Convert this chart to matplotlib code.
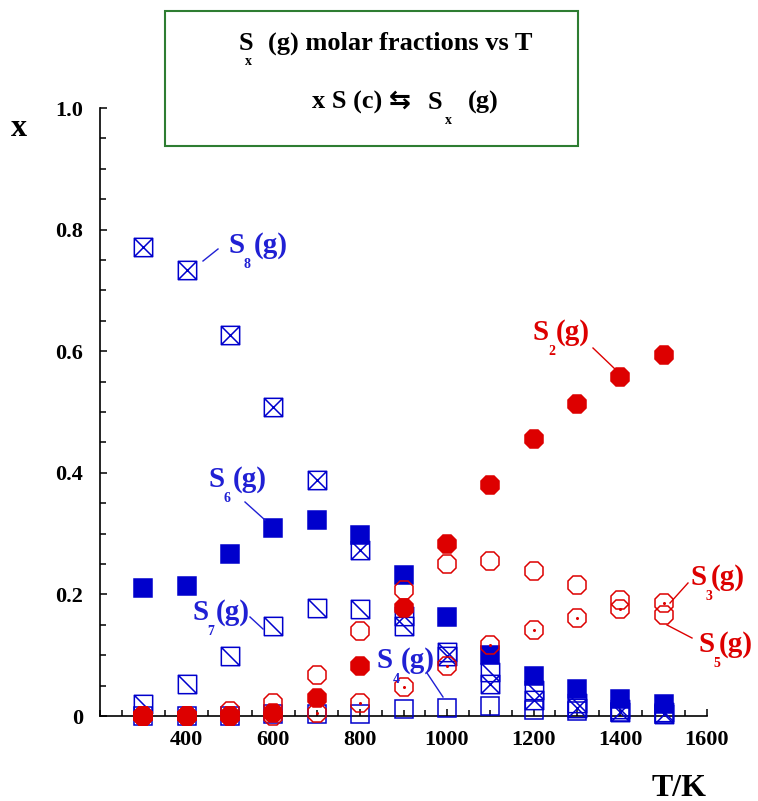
import matplotlib
matplotlib.use("Agg")
import matplotlib.pyplot as plt
from matplotlib.path import Path
from matplotlib.ticker import FixedLocator, MultipleLocator

# ---------------- data ----------------
T = [300, 400, 500, 600, 700, 800, 900, 1000, 1100, 1200, 1300, 1400, 1500]
x_S2 = [0, 0, 0, 0.005, 0.030, 0.082, 0.178, 0.283, 0.380, 0.456, 0.513, 0.558, 0.594]
x_S3 = [0, 0, 0, 0.0, 0.005, 0.021, 0.047, 0.083, 0.117, 0.142, 0.161, 0.176, 0.186]
x_S5 = [0, 0, 0.008, 0.021, 0.068, 0.139, 0.207, 0.250, 0.255, 0.238, 0.216, 0.190, 0.166]
x_S6 = [0.210, 0.213, 0.266, 0.310, 0.323, 0.298, 0.232, 0.163, 0.100, 0.066, 0.045, 0.028, 0.020]
x_S7 = [0.020, 0.052, 0.098, 0.148, 0.178, 0.176, 0.148, 0.106, 0.072, 0.042, 0.022, 0.011, 0.006]
x_S8 = [0.772, 0.733, 0.627, 0.508, 0.388, 0.273, 0.165, 0.098, 0.052, 0.026, 0.013, 0.007, 0.003]
x_S4 = [0, 0, 0, 0.003, 0.003, 0.003, 0.011, 0.013, 0.017, 0.010, 0.008, 0.006, 0.004]

xtick_vals = [400, 600, 800, 1000, 1200, 1400, 1600]
xtick_labels = ["400", "600", "800", "1000", "1200", "1400", "1600"]
ytick_vals = [0, 0.2, 0.4, 0.6, 0.8, 1.0]
ytick_labels = ["0", "0.2", "0.4", "0.6", "0.8", "1.0"]

# ---------------- style ----------------
W, H = 758, 801
BLUE = "#0000cc"
LBLUE = "#2020d4"
RED = "#dd0000"
GREEN = "#2e7d32"
SERIF = ["Liberation Serif", "DejaVu Serif"]
ARROWFAM = ["Liberation Serif", "DejaVu Sans"]

plt.rcParams["font.family"] = SERIF
plt.rcParams["font.weight"] = "bold"

fig = plt.figure(figsize=(W / 100, H / 100), dpi=100)
ax = fig.add_axes([100 / W, 1 - 716 / H, (707 - 100) / W, (716 - 108) / H])
ax.set_xlim(200, 1600)
ax.set_ylim(0, 1.0)
for s in ("top", "right"):
    ax.spines[s].set_visible(False)
for s in ("left", "bottom"):
    ax.spines[s].set_linewidth(1.2)

ax.xaxis.set_major_locator(FixedLocator(xtick_vals))
ax.xaxis.set_minor_locator(MultipleLocator(50))
ax.set_xticklabels(xtick_labels)
ax.yaxis.set_major_locator(FixedLocator(ytick_vals))
ax.yaxis.set_minor_locator(MultipleLocator(0.05))
ax.set_yticklabels(ytick_labels)
ax.tick_params(which="both", direction="in", width=1.1, labelsize=16)
ax.tick_params(which="major", length=5)
ax.tick_params(which="minor", length=4)
ax.tick_params(axis="y", which="both", pad=12)
ax.tick_params(axis="x", which="both", pad=10)
for lab in ax.get_xticklabels() + ax.get_yticklabels():
    lab.set_fontweight("bold")

# custom markers
M, L, C = Path.MOVETO, Path.LINETO, Path.CLOSEPOLY
box_x = Path([(-1, -1), (1, -1), (1, 1), (-1, 1), (-1, -1), (-1, -1), (1, 1), (-1, 1), (1, -1)],
             [M, L, L, L, C, M, L, M, L])
box_bs = Path([(-1, -1), (1, -1), (1, 1), (-1, 1), (-1, -1), (-1, 1), (1, -1)],
              [M, L, L, L, C, M, L])

SQ = 13.2
OC = 14.5
LW = 1.1
kw = dict(linestyle="none", clip_on=False)

ax.plot(T, x_S4, marker="s", ms=SQ, mec=BLUE, mfc="none", mew=LW, zorder=3, **kw)
ax.plot(T, x_S8, marker=box_x, ms=SQ, mec=BLUE, mfc="none", mew=LW, zorder=3, **kw)
ax.plot(T, x_S7, marker=box_bs, ms=SQ, mec=BLUE, mfc="none", mew=LW, zorder=3, **kw)
ax.plot(T, x_S6, marker="s", ms=SQ, mec=BLUE, mfc=BLUE, mew=LW, zorder=4, **kw)
ax.plot(T, x_S5, marker="8", ms=OC, mec=RED, mfc="none", mew=LW, zorder=5, **kw)
ax.plot(T, x_S3, marker="8", ms=OC, mec=RED, mfc="none", mew=LW, zorder=5, **kw)
ax.plot(T, x_S3, marker="o", ms=2.2, mec=RED, mfc=RED, mew=0, zorder=5, **kw)
ax.plot(T, x_S2, marker="8", ms=OC, mec=RED, mfc=RED, mew=LW, zorder=6, **kw)


def fx(px):
    return px / W


def fy(py):
    return 1 - py / H


def ptext(px, py, s, size, color="black", ha="left", va="baseline", family=SERIF):
    fig.text(fx(px), fy(py), s, fontsize=size, color=color, ha=ha, va=va,
             fontweight="bold", family=family)


def leader(p0, p1, color):
    fig.add_artist(plt.Line2D([fx(p0[0]), fx(p1[0])], [fy(p0[1]), fy(p1[1])],
                              color=color, lw=1.0, transform=fig.transFigure))


def species_label(sx, base, sub, gx, color, size=21, subsize=10):
    ptext(sx, base, "S", size, color)
    ptext(sx + 19, base + 15, sub, subsize, color, ha="center", va="baseline")
    ptext(gx, base, "(g)", size, color)


# species labels
species_label(228, 253, "8", 254, LBLUE)
leader((203, 261), (218, 249), LBLUE)
species_label(208, 487, "6", 233, LBLUE)
leader((245, 502), (265, 520), LBLUE)
species_label(192, 620, "7", 216, LBLUE)
leader((250, 617), (263, 629), LBLUE)
species_label(377, 668, "4", 401, LBLUE)
leader((427, 673), (443, 697), LBLUE)
species_label(533, 340, "2", 556, RED)
leader((593, 348), (616, 370), RED)
species_label(690, 585, "3", 711, RED)
leader((670, 603), (688, 583), RED)
species_label(698, 652, "5", 719, RED)
leader((667, 625), (692, 638), RED)

# axis labels
ptext(19, 128, "x", 23, ha="center", va="center")
ptext(679, 788, "T/K", 23, ha="center", va="center")

# title box
rect = plt.Rectangle((fx(165), fy(146)), fx(578) - fx(165), fy(11) - fy(146),
                     transform=fig.transFigure, fill=False, edgecolor=GREEN, lw=1.5)
fig.add_artist(rect)
ptext(239, 50, "S", 19)
ptext(248, 65, "x", 10, ha="center")
ptext(268, 50, "(g) molar fractions vs T", 19)
ptext(312, 109, "x S (c) \u21c6", 19, family=ARROWFAM)
ptext(428, 109, "S", 19)
ptext(448, 124, "x", 10, ha="center")
ptext(468, 109, "(g)", 19)

fig.savefig("out.png", dpi=100)
